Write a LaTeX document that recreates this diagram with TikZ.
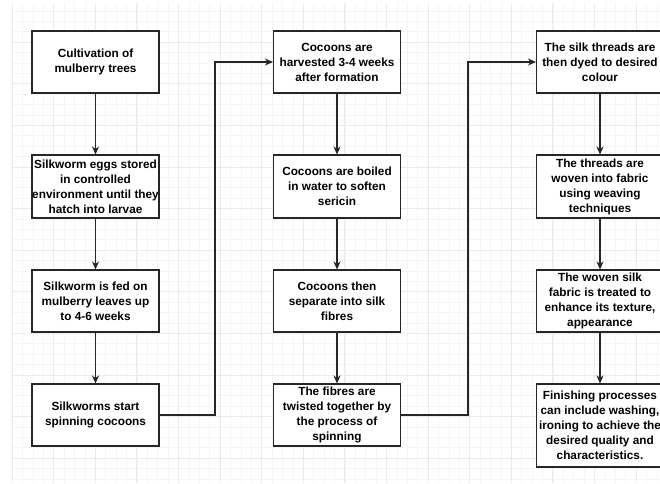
\documentclass[tikz,border=0pt]{standalone}
\usepackage{fontspec}
\setmainfont{Liberation Sans}
\usetikzlibrary{arrows.meta}
\begin{document}
\begin{tikzpicture}[x=1pt,y=-1pt,
  stepbox/.style={draw=black!85, line width=1.1pt, fill=white, minimum width=127pt, minimum height=62pt, inner sep=0pt, align=center, font=\fontsize{11.8}{15}\selectfont\bfseries},
  flow/.style={draw=black!85, line width=1.1pt, -{Stealth[length=8pt,width=7pt,inset=2.5pt]}},
  minorgrid/.style={draw=black!4, line width=0.6pt},
  majorgrid/.style={draw=black!8, line width=0.8pt}]
\useasboundingbox (0,0) rectangle (660,483);
\fill[white] (0,0) rectangle (660,483);
% grid
\foreach \i in {0,...,62} { \pgfmathsetmacro\xx{12+10.4*\i} \draw[minorgrid] (\xx,3) -- (\xx,483); }
\foreach \k in {1,...,46} { \pgfmathsetmacro\yy{0.5+10.4*\k} \draw[minorgrid] (12,\yy) -- (660,\yy); }
\foreach \i in {0,...,15} { \pgfmathsetmacro\xx{12+41.6*\i} \draw[majorgrid] (\xx,3) -- (\xx,483); }
\foreach \k in {1,...,11} { \pgfmathsetmacro\yy{0.5+41.6*\k} \draw[majorgrid] (12,\yy) -- (660,\yy); }
% column 1
\node[stepbox] (a1) at (95.5,62) {Cultivation of\\mulberry trees};
\node[stepbox, minimum height=63pt] (a2) at (95.5,186.5) {Silkworm eggs stored\\in controlled\\environment until they\\hatch into larvae};
\node[stepbox] (a3) at (95.5,301) {Silkworm is fed on\\mulberry leaves up\\to 4-6 weeks};
\node[stepbox] (a4) at (95.5,415) {Silkworms start\\spinning cocoons};
% column 2
\node[stepbox] (b1) at (337,62) {Cocoons are\\harvested 3-4 weeks\\after formation};
\node[stepbox, minimum height=63pt] (b2) at (337,186.5) {Cocoons are boiled\\in water to soften\\sericin};
\node[stepbox] (b3) at (337,301) {Cocoons then\\separate into silk\\fibres};
\node[stepbox] (b4) at (337,415) {The fibres are\\twisted together by\\the process of\\spinning};
% column 3
\node[stepbox] (c1) at (600,62) {The silk threads are\\then dyed to desired\\colour};
\node[stepbox, minimum height=63pt] (c2) at (600,186.5) {The threads are\\woven into fabric\\using weaving\\techniques};
\node[stepbox] (c3) at (600,301) {The woven silk\\fabric is treated to\\enhance its texture,\\appearance};
\node[stepbox, minimum height=83pt] (c4) at (600,425.5) {Finishing processes\\can include washing,\\ironing to achieve the\\desired quality and\\characteristics.};
% connectors
\draw[flow] (a1) -- (a2);
\draw[flow] (a2) -- (a3);
\draw[flow] (a3) -- (a4);
\draw[flow] (b1) -- (b2);
\draw[flow] (b2) -- (b3);
\draw[flow] (b3) -- (b4);
\draw[flow] (c1) -- (c2);
\draw[flow] (c2) -- (c3);
\draw[flow] (c3) -- (c4.north);
\coordinate (k1) at (215,415);
\coordinate (k2) at (468,415);
\draw[flow] (a4.east) -- (k1) |- (b1.west);
\draw[flow] (b4.east) -- (k2) |- (c1.west);
\end{tikzpicture}
\end{document}
